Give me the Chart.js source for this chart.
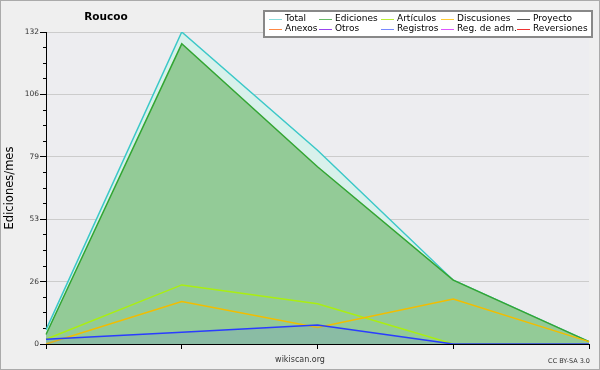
<!DOCTYPE html>
<html>
<head>
<meta charset="utf-8">
<script src="https://cdn.jsdelivr.net/npm/chart.js@4"></script>
<style>
html, body { margin: 0; padding: 0; background: #efefef; }
</style>
</head>
<body>
<canvas id="chart1" width="600" height="370"></canvas>
<script>
// data
const months = ['Mes 1', 'Mes 2', 'Mes 3', 'Mes 4', 'Mes 5'];
const total = [6, 132, 82, 27, 1];
const ediciones = [4, 127, 75, 27, 1];
const articulos = [2, 25, 17, 0, 0];
const discusiones = [0, 18, 7, 19, 1];
const registros = [2, 5, 8, 0, 0];

const yTickValues = [0, 26.4, 52.8, 79.2, 105.6, 132];
const yTickLabels = ['0', '26', '53', '79', '106', '132'];

const legendNames = ['Total', 'Ediciones', 'Artículos', 'Discusiones', 'Proyecto',
    'Anexos', 'Otros', 'Registros', 'Reg. de adm.', 'Reversiones'];
const legendColors = ['#88dddd', '#66bb66', '#bbee33', '#ffcc33', '#555555',
    '#ff8844', '#9944ee', '#7788ff', '#dd55ff', '#ee3333'];

Chart.defaults.font.family = "'DejaVu Sans', sans-serif";

const legendCols = [285, 335, 397, 457, 533];
const legendRows = [19, 29];

const decor = {
    id: 'decor',
    beforeDraw(chart) {
        const c = chart.ctx, a = chart.chartArea;
        c.save();
        c.fillStyle = '#efefef';
        c.fillRect(0, 0, chart.width, chart.height);
        c.fillStyle = '#ededf0';
        c.fillRect(a.left, a.top, a.right - a.left, a.bottom - a.top);
        c.restore();
    },
    afterDraw(chart) {
        const c = chart.ctx;
        c.save();
        // title
        c.fillStyle = '#000';
        c.font = "bold 10.5px 'DejaVu Sans'";
        c.textAlign = 'center';
        c.textBaseline = 'middle';
        c.fillText('Roucoo', 106, 17);

        // legend box
        c.fillStyle = '#fff';
        c.fillRect(264, 11, 328, 26);
        c.strokeStyle = '#888';
        c.lineWidth = 2;
        c.strokeRect(264, 11, 328, 26);
        c.font = "9px 'DejaVu Sans'";
        c.textAlign = 'left';
        legendNames.forEach((name, i) => {
            const x = legendCols[i % 5];
            const y = legendRows[Math.floor(i / 5)];
            c.strokeStyle = legendColors[i];
            c.lineWidth = 1;
            c.beginPath();
            c.moveTo(x - 16, y + 0.5);
            c.lineTo(x - 3, y + 0.5);
            c.stroke();
            c.fillStyle = '#000';
            c.fillText(name, x, y);
        });

        // footer texts
        c.fillStyle = '#333';
        c.textAlign = 'center';
        c.font = "8px 'DejaVu Sans'";
        c.fillText('wikiscan.org', 300, 360);
        c.textAlign = 'right';
        c.font = "6.5px 'DejaVu Sans'";
        c.fillText('CC BY-SA 3.0', 590, 361);

        // outer border
        c.strokeStyle = '#aaa';
        c.lineWidth = 1;
        c.strokeRect(0.5, 0.5, chart.width - 1, chart.height - 1);
        c.restore();
    }
};

function line(label, data, color, fillColor, order) {
    return {
        label: label,
        data: data,
        borderColor: color,
        backgroundColor: fillColor || 'transparent',
        fill: fillColor ? 'origin' : false,
        borderWidth: 1.5,
        pointRadius: 0,
        tension: 0,
        order: order
    };
}

new Chart(document.querySelector('#chart1').getContext('2d'), {
    type: 'line',
    data: {
        labels: months,
        datasets: [
            line('Total', total, '#3cc8c8', '#d8f1eb', 4),
            line('Ediciones', ediciones, '#33a533', '#93cb97', 3),
            line('Artículos', articulos, '#aaee11', null, 2),
            line('Discusiones', discusiones, '#f2bd00', null, 1),
            line('Registros', registros, '#2a3cff', 'rgba(80, 90, 255, 0.13)', 0)
        ]
    },
    plugins: [decor],
    options: {
        responsive: false,
        animation: false,
        layout: { padding: { top: 32, right: 11, bottom: 0, left: 0 } },
        plugins: {
            legend: { display: false },
            tooltip: { enabled: false }
        },
        scales: {
            x: {
                offset: false,
                ticks: { display: false },
                grid: { drawOnChartArea: false, tickColor: '#000', tickLength: 5 },
                border: { color: '#000', width: 1 },
                afterFit: s => { s.height = 26; }
            },
            y: {
                min: 0,
                max: 132,
                afterBuildTicks: s => {
                    const ticks = [];
                    for (let i = 0; i < yTickValues.length - 1; i++) {
                        const step = (yTickValues[i + 1] - yTickValues[i]) / 4;
                        for (let k = 0; k < 4; k++) ticks.push({ value: yTickValues[i] + step * k });
                    }
                    ticks.push({ value: yTickValues[yTickValues.length - 1] });
                    s.ticks = ticks;
                },
                ticks: {
                    autoSkip: false,
                    padding: 1,
                    color: '#333',
                    font: { size: 7.5 },
                    callback: (v, i) => (i % 4 === 0 ? yTickLabels[i / 4] : '')
                },
                grid: {
                    color: ctx => (ctx.index % 4 === 0 ? '#cccccc' : 'transparent'),
                    tickColor: '#000',
                    tickLength: 6,
                    tickBorderDash: ctx => (ctx.index % 4 === 0 ? [] : [0, 3, 3, 100])
                },
                border: { color: '#000', width: 1 },
                title: {
                    display: true,
                    text: 'Ediciones/mes',
                    color: '#000',
                    font: { size: 11.5 },
                    padding: { top: 3, bottom: 0 }
                },
                afterFit: s => { s.width = 46; }
            }
        }
    }
});
</script>
</body>
</html>
